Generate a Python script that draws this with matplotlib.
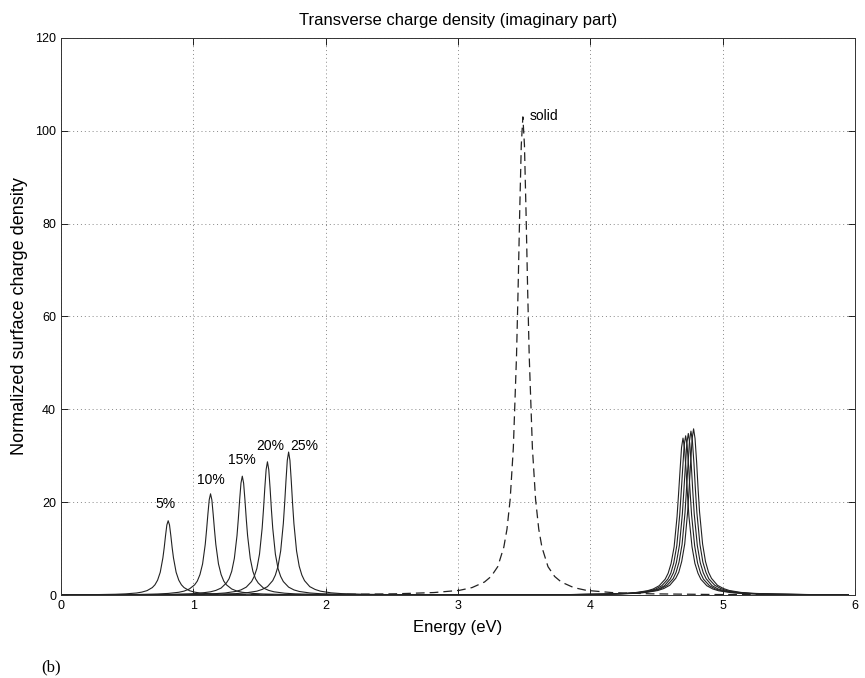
import numpy as np
import matplotlib
matplotlib.use("Agg")
import matplotlib.pyplot as plt

plt.rcParams['font.family'] = ['Liberation Sans', 'DejaVu Sans']

# curvas (energia em eV, densidade normalizada)
x_5 = [0.01, 0.25, 0.41, 0.49, 0.57, 0.61, 0.65, 0.69, 0.71, 0.73, 0.75, 0.77, 0.78, 0.79, 0.80, 0.81,
       0.82, 0.83, 0.84, 0.85, 0.87, 0.89, 0.91, 0.93, 0.97, 1.01, 1.05, 1.13, 1.21, 1.37, 1.61,
       3.80, 4.07, 4.25, 4.34, 4.43, 4.475, 4.52, 4.565, 4.588, 4.61, 4.633, 4.655, 4.666, 4.678, 4.689, 4.70,
       4.711, 4.723, 4.734, 4.745, 4.768, 4.79, 4.813, 4.835, 4.88, 4.925, 4.97, 5.06, 5.15, 5.33, 5.60, 5.95]
y_5 = [0.04, 0.08, 0.16, 0.25, 0.43, 0.62, 0.94, 1.6, 2.2, 3.2, 4.9, 8.0, 10.2, 12.8, 15.1, 16.0,
       15.1, 12.8, 10.2, 8.0, 4.9, 3.2, 2.2, 1.6, 0.94, 0.62, 0.43, 0.25, 0.16, 0.08, 0.04,
       0.08, 0.17, 0.33, 0.52, 0.91, 1.3, 2.0, 3.4, 4.7, 6.8, 10.4, 16.9, 21.6, 27.0, 31.8, 33.8,
       31.8, 27.0, 21.6, 16.9, 10.4, 6.8, 4.7, 3.4, 2.0, 1.3, 0.91, 0.52, 0.33, 0.17, 0.08, 0.02]

x_10 = [0.01, 0.33, 0.57, 0.73, 0.81, 0.89, 0.93, 0.97, 1.01, 1.03, 1.05, 1.07, 1.09, 1.10, 1.11, 1.12, 1.13,
        1.14, 1.15, 1.16, 1.17, 1.19, 1.21, 1.23, 1.25, 1.29, 1.33, 1.37, 1.45, 1.53, 1.69, 1.93,
        3.82, 4.09, 4.27, 4.36, 4.45, 4.495, 4.54, 4.585, 4.608, 4.63, 4.653, 4.675, 4.686, 4.698, 4.709, 4.72,
        4.731, 4.743, 4.754, 4.765, 4.788, 4.81, 4.833, 4.855, 4.90, 4.945, 4.99, 5.08, 5.17, 5.35, 5.62, 5.95]
y_10 = [0.01, 0.05, 0.11, 0.22, 0.34, 0.59, 0.84, 1.3, 2.2, 3.0, 4.4, 6.7, 10.9, 14.0, 17.4, 20.5, 21.8,
        20.5, 17.4, 14.0, 10.9, 6.7, 4.4, 3.0, 2.2, 1.3, 0.84, 0.59, 0.34, 0.22, 0.11, 0.05,
        0.09, 0.17, 0.34, 0.53, 0.93, 1.3, 2.0, 3.4, 4.7, 6.9, 10.6, 17.2, 22.0, 27.4, 32.3, 34.3,
        32.3, 27.4, 22.0, 17.2, 10.6, 6.9, 4.7, 3.4, 2.0, 1.3, 0.93, 0.53, 0.34, 0.17, 0.09, 0.02]

x_15 = [0.01, 0.57, 0.81, 0.97, 1.05, 1.13, 1.17, 1.21, 1.25, 1.27, 1.29, 1.31, 1.33, 1.34, 1.35, 1.36, 1.37,
        1.38, 1.39, 1.40, 1.41, 1.43, 1.45, 1.47, 1.49, 1.53, 1.57, 1.61, 1.69, 1.77, 1.93, 2.17,
        3.84, 4.11, 4.29, 4.38, 4.47, 4.515, 4.56, 4.605, 4.628, 4.65, 4.673, 4.695, 4.706, 4.718, 4.729, 4.74,
        4.751, 4.763, 4.774, 4.785, 4.808, 4.83, 4.853, 4.875, 4.92, 4.965, 5.01, 5.10, 5.19, 5.37, 5.64, 5.95]
y_15 = [0.01, 0.06, 0.13, 0.25, 0.39, 0.69, 0.99, 1.5, 2.6, 3.5, 5.1, 7.9, 12.8, 16.4, 20.5, 24.1, 25.6,
        24.1, 20.5, 16.4, 12.8, 7.9, 5.1, 3.5, 2.6, 1.5, 0.99, 0.69, 0.39, 0.25, 0.13, 0.06,
        0.09, 0.18, 0.34, 0.54, 0.94, 1.3, 2.0, 3.5, 4.8, 7.0, 10.7, 17.4, 22.3, 27.8, 32.7, 34.8,
        32.7, 27.8, 22.3, 17.4, 10.7, 7.0, 4.8, 3.5, 2.0, 1.3, 0.94, 0.54, 0.34, 0.18, 0.09, 0.02]

x_20 = [0.01, 0.76, 1.00, 1.16, 1.24, 1.32, 1.36, 1.40, 1.44, 1.46, 1.48, 1.50, 1.52, 1.53, 1.54, 1.55, 1.56,
        1.57, 1.58, 1.59, 1.60, 1.62, 1.64, 1.66, 1.68, 1.72, 1.76, 1.80, 1.88, 1.96, 2.12, 2.36,
        3.86, 4.13, 4.31, 4.40, 4.49, 4.535, 4.58, 4.625, 4.648, 4.67, 4.693, 4.715, 4.726, 4.738, 4.749, 4.76,
        4.771, 4.783, 4.794, 4.805, 4.828, 4.85, 4.873, 4.895, 4.94, 4.985, 5.03, 5.12, 5.21, 5.39, 5.66, 5.95]
y_20 = [0.01, 0.07, 0.15, 0.28, 0.44, 0.77, 1.1, 1.7, 2.9, 4.0, 5.7, 8.8, 14.4, 18.4, 23.0, 27.0, 28.7,
        27.0, 23.0, 18.4, 14.4, 8.8, 5.7, 4.0, 2.9, 1.7, 1.1, 0.77, 0.44, 0.28, 0.15, 0.07,
        0.09, 0.18, 0.35, 0.54, 0.95, 1.4, 2.1, 3.5, 4.9, 7.1, 10.9, 17.7, 22.6, 28.2, 33.2, 35.3,
        33.2, 28.2, 22.6, 17.7, 10.9, 7.1, 4.9, 3.5, 2.1, 1.4, 0.95, 0.54, 0.35, 0.18, 0.09, 0.02]

x_25 = [0.01, 0.92, 1.16, 1.32, 1.40, 1.48, 1.52, 1.56, 1.60, 1.62, 1.64, 1.66, 1.68, 1.69, 1.70, 1.71, 1.72,
        1.73, 1.74, 1.75, 1.76, 1.78, 1.80, 1.82, 1.84, 1.88, 1.92, 1.96, 2.04, 2.12, 2.28, 2.52,
        3.88, 4.15, 4.33, 4.42, 4.51, 4.555, 4.60, 4.645, 4.668, 4.69, 4.713, 4.735, 4.746, 4.758, 4.769, 4.78,
        4.791, 4.803, 4.814, 4.825, 4.848, 4.87, 4.893, 4.915, 4.96, 5.005, 5.05, 5.14, 5.23, 5.41, 5.68, 5.95]
y_25 = [0.01, 0.08, 0.16, 0.30, 0.47, 0.83, 1.2, 1.8, 3.1, 4.3, 6.2, 9.5, 15.4, 19.7, 24.6, 29.0, 30.8,
        29.0, 24.6, 19.7, 15.4, 9.5, 6.2, 4.3, 3.1, 1.8, 1.2, 0.83, 0.47, 0.30, 0.16, 0.08,
        0.09, 0.18, 0.35, 0.55, 0.97, 1.4, 2.1, 3.6, 4.9, 7.2, 11.0, 17.9, 22.9, 28.6, 33.7, 35.8,
        33.7, 28.6, 22.9, 17.9, 11.0, 7.2, 4.9, 3.6, 2.1, 1.4, 0.97, 0.55, 0.36, 0.18, 0.09, 0.02]

x_solid = [0.5, 2.05, 2.53, 2.818, 3.01, 3.106, 3.20, 3.25, 3.30, 3.346, 3.37, 3.394, 3.418, 3.442, 3.454, 3.466, 3.478, 3.49,
           3.502, 3.514, 3.526, 3.538, 3.562, 3.586, 3.61, 3.634, 3.68, 3.73, 3.78, 3.874, 3.97, 4.162, 4.45, 4.93, 5.8]
y_solid = [0.03, 0.11, 0.26, 0.53, 1.0, 1.6, 2.8, 4.0, 6.1, 10.3, 14.2, 20.6, 31.7, 51.5, 65.9, 82.4, 96.9, 103.0,
           96.9, 82.4, 65.9, 51.5, 31.7, 20.6, 14.2, 10.3, 6.1, 4.0, 2.8, 1.6, 1.0, 0.53, 0.26, 0.11, 0.04]

rotulos = ["5%", "10%", "15%", "20%", "25%"]
rotulos_x = [0.79, 1.13, 1.365, 1.58, 1.84]
rotulos_y = [19.6, 24.8, 29.1, 32.1, 32.1]

fig = plt.figure(figsize=(8.65, 6.78), dpi=100)
ax = fig.add_axes([0.0705, 0.1224, 0.918, 0.8216])

cor = "#222222"
for xs, ys in [(x_5, y_5), (x_10, y_10), (x_15, y_15), (x_20, y_20), (x_25, y_25)]:
    ax.plot(xs, ys, color=cor, lw=0.8)
ax.plot(x_solid, y_solid, color=cor, lw=0.9, dashes=(7, 4))

for r, rx, ry in zip(rotulos, rotulos_x, rotulos_y):
    ax.text(rx, ry, r, ha="center", va="center", fontsize=10)
ax.text(3.545, 103.2, "solid", ha="left", va="center", fontsize=10)

ax.set_xlim(0, 6)
ax.set_ylim(0, 120)
ax.set_xticks(range(0, 7))
ax.set_yticks(range(0, 121, 20))
ax.tick_params(direction="in", top=True, right=True, length=5, width=0.6, labelsize=9)
ax.grid(True, linestyle=(0, (1, 3)), color="#888888", lw=0.7)
for s in ax.spines.values():
    s.set_linewidth(0.7)
    s.set_color("#333333")

ax.set_title("Transverse charge density (imaginary part)", fontsize=12, pad=9)
ax.set_xlabel("Energy (eV)", fontsize=12, labelpad=6)
ax.set_ylabel("Normalized surface charge density", fontsize=13, labelpad=5)

fig.text(0.048, 0.016, "(b)", family="Liberation Serif", fontsize=12, va="center")

fig.savefig("out.png", dpi=100)
